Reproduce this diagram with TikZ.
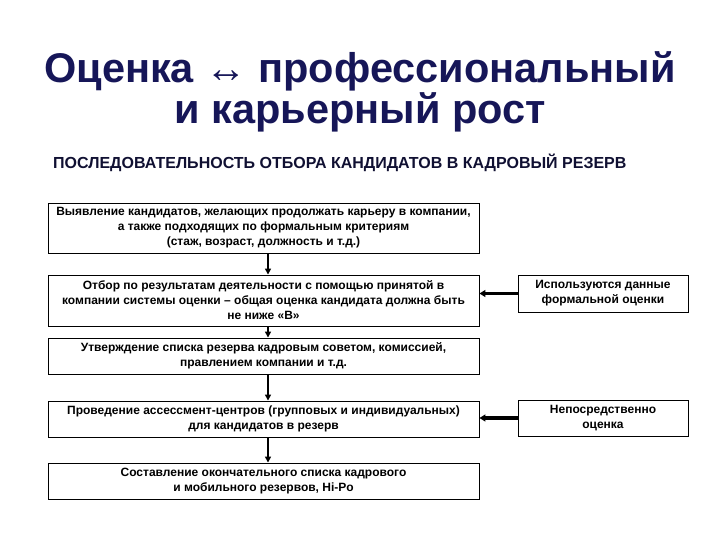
\documentclass[tikz,border=0pt]{standalone}
\usepackage{fontspec}
\setmainfont{Liberation Sans}
\usetikzlibrary{arrows.meta}
\definecolor{titlenavy}{RGB}{22,22,88}
\definecolor{subnavy}{RGB}{16,16,50}

\tikzset{
  stagebox/.style={draw, line width=0.9pt, align=center, inner sep=2pt,
    minimum width=431, font=\fontsize{12}{15}\selectfont\bfseries},
  sidebox/.style={draw, line width=0.9pt, align=center, inner sep=2pt,
    minimum width=170, font=\fontsize{12}{15}\selectfont\bfseries},
  flowarrow/.style={line width=1.6pt, -{Triangle[length=6pt,width=6pt]}},
  feedarrow/.style={line width=3.2pt, -{Triangle[length=6pt,width=7pt]}}
}

\begin{document}
\begin{tikzpicture}[x=1pt,y=1pt,yscale=-1,xscale=1]
\useasboundingbox (0,0) rectangle (720,540);

% Title
\node (title) [text=titlenavy, align=center, font=\fontsize{41.5}{39}\selectfont\bfseries] at (360,92) {Оценка ↔ профессиональный\\и карьерный рост};
% Subtitle
\node (subtitle) [text=subnavy, anchor=west, inner sep=0pt, font=\fontsize{16}{18}\selectfont\bfseries] at (53,163) {ПОСЛЕДОВАТЕЛЬНОСТЬ ОТБОРА КАНДИДАТОВ В КАДРОВЫЙ РЕЗЕРВ};

% Stages
\node (reveal) [stagebox, minimum height=50] at (263.5,228) {Выявление кандидатов, желающих продолжать карьеру в компании,\\а также подходящих по формальным критериям\\(стаж, возраст, должность и т.д.)};
\node (select) [stagebox, minimum height=51] at (263.5,300.5) {Отбор по результатам деятельности с помощью принятой в\\компании системы оценки -- общая оценка кандидата должна быть\\не ниже «В»};
\node (approve) [stagebox, minimum height=36] at (263.5,356) {Утверждение списка резерва кадровым советом, комиссией,\\правлением компании и т.д.};
\node (assess) [stagebox, minimum height=36] at (263.5,419) {Проведение ассессмент-центров (групповых и индивидуальных)\\для кандидатов в резерв};
\node (final) [stagebox, minimum height=36] at (263.5,481) {Составление окончательного списка кадрового\\и мобильного резервов, Hi-Po};

% Side notes
\node (formal) [sidebox, minimum height=37] at (603,293.5) {Используются данные\\формальной оценки};
\node (direct) [sidebox, minimum height=36] at (603,418) {Непосредственно\\оценка};

% Flow
\draw [flowarrow] ([xshift=4.5]reveal.south) -- ([xshift=4.5]select.north);
\draw [flowarrow] ([xshift=4.5]select.south) -- ([xshift=4.5]approve.north);
\draw [flowarrow] ([xshift=4.5]approve.south) -- ([xshift=4.5]assess.north);
\draw [flowarrow] ([xshift=4.5]assess.south) -- ([xshift=4.5]final.north);
\draw [feedarrow] (formal.west) -- (formal.west -| select.east);
\draw [feedarrow] (direct.west) -- (direct.west -| assess.east);

\end{tikzpicture}
\end{document}
